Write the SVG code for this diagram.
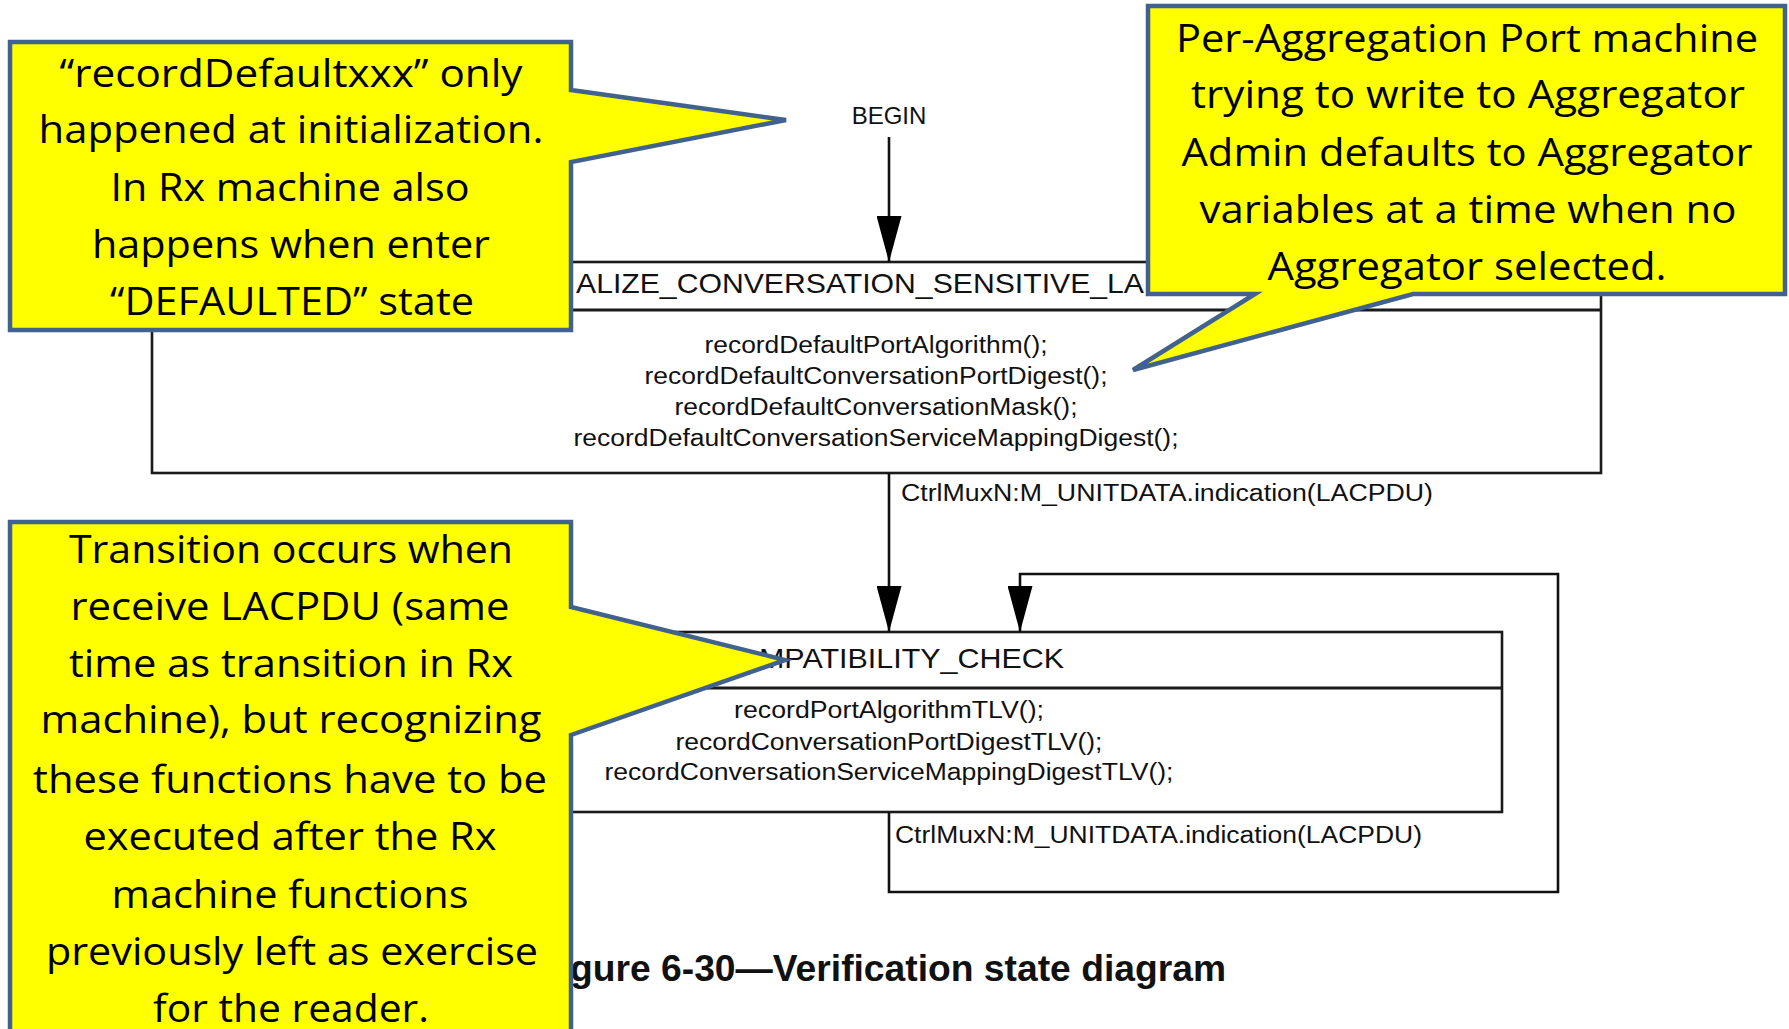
<svg xmlns="http://www.w3.org/2000/svg" width="1789" height="1029" viewBox="0 0 1789 1029">
<style>
.box{fill:#fff;stroke:#1a1a1a;stroke-width:2.6}
.div{stroke:#1a1a1a;stroke-width:3}
.conn{fill:none;stroke:#111;stroke-width:2.6}
.st{font-family:"Liberation Sans",Arial,sans-serif;fill:#111}
.hdr{font-size:28px}
.body{font-size:23px;text-anchor:middle}
.lbl{font-size:23px}
.cap{font-family:"Liberation Sans",Arial,sans-serif;font-size:36px;font-weight:bold;fill:#111}
.call{fill:#ffff00;stroke:#41628f;stroke-width:4.5;stroke-linejoin:miter}
.ct{font-family:"Open Sans","Noto Sans",sans-serif;font-size:38px;fill:#000;text-anchor:middle}
</style>
<defs>
<marker id="ah" markerUnits="userSpaceOnUse" viewBox="0 0 46 25" refX="46" refY="12.5" markerWidth="46" markerHeight="25" orient="auto">
<path d="M0,0 L46,12.5 L0,25 Z" fill="#000"/>
</marker>
</defs>

<g id="begin">
<text class="st" x="889" y="124" font-size="24" text-anchor="middle">BEGIN</text>
</g>

<g id="state-initialize">
<rect class="box" x="152" y="262" width="1449" height="211"/>
<line class="div" x1="152" y1="310" x2="1601" y2="310"/>
<text class="st hdr" x="576" y="293" textLength="568" lengthAdjust="spacingAndGlyphs">ALIZE_CONVERSATION_SENSITIVE_LA</text>
<text class="st body" x="876" y="353" textLength="343" lengthAdjust="spacingAndGlyphs">recordDefaultPortAlgorithm();</text>
<text class="st body" x="876" y="384" textLength="463" lengthAdjust="spacingAndGlyphs">recordDefaultConversationPortDigest();</text>
<text class="st body" x="876" y="415" textLength="403" lengthAdjust="spacingAndGlyphs">recordDefaultConversationMask();</text>
<text class="st body" x="876" y="446" textLength="605" lengthAdjust="spacingAndGlyphs">recordDefaultConversationServiceMappingDigest();</text>
</g>

<g id="state-compatibility">
<rect class="box" x="276" y="632" width="1226" height="180"/>
<line class="div" x1="276" y1="688" x2="1502" y2="688"/>
<text class="st hdr" x="759" y="668" textLength="305" lengthAdjust="spacingAndGlyphs">MPATIBILITY_CHECK</text>
<text class="st body" x="889" y="718" textLength="310" lengthAdjust="spacingAndGlyphs">recordPortAlgorithmTLV();</text>
<text class="st body" x="889" y="750" textLength="427" lengthAdjust="spacingAndGlyphs">recordConversationPortDigestTLV();</text>
<text class="st body" x="889" y="780" textLength="569" lengthAdjust="spacingAndGlyphs">recordConversationServiceMappingDigestTLV();</text>
</g>

<g id="connectors">
<line class="conn" x1="889" y1="137" x2="889" y2="262" marker-end="url(#ah)"/>
<line class="conn" x1="889" y1="473" x2="889" y2="632" marker-end="url(#ah)"/>
<path class="conn" d="M889,812 V892 H1558 V574 H1020 V632" marker-end="url(#ah)"/>
<text class="st lbl" x="901" y="501" textLength="532" lengthAdjust="spacingAndGlyphs">CtrlMuxN:M_UNITDATA.indication(LACPDU)</text>
<text class="st lbl" x="895" y="843" textLength="527" lengthAdjust="spacingAndGlyphs">CtrlMuxN:M_UNITDATA.indication(LACPDU)</text>
</g>

<g id="caption">
<text class="cap" x="570" y="981" textLength="656" lengthAdjust="spacingAndGlyphs">gure 6-30—Verification state diagram</text>
</g>

<g id="callout-1">
<path class="call" d="M10,42 H571 V90 L786,120 L571,162 V330 H10 Z"/>
<text class="ct" x="291" y="87" textLength="463" lengthAdjust="spacingAndGlyphs">“recordDefaultxxx” only</text>
<text class="ct" x="291" y="143" textLength="505" lengthAdjust="spacingAndGlyphs">happened at initialization.</text>
<text class="ct" x="290" y="201" textLength="359" lengthAdjust="spacingAndGlyphs">In Rx machine also</text>
<text class="ct" x="291" y="258" textLength="398" lengthAdjust="spacingAndGlyphs">happens when enter</text>
<text class="ct" x="292" y="315" textLength="364" lengthAdjust="spacingAndGlyphs">“DEFAULTED” state</text>
</g>

<g id="callout-2">
<path class="call" d="M1148,6 H1785 V294 H1413 L1133,370 L1255,294 H1148 Z"/>
<text class="ct" x="1467" y="52" textLength="582" lengthAdjust="spacingAndGlyphs">Per-Aggregation Port machine</text>
<text class="ct" x="1468" y="108" textLength="554" lengthAdjust="spacingAndGlyphs">trying to write to Aggregator</text>
<text class="ct" x="1467" y="166" textLength="571" lengthAdjust="spacingAndGlyphs">Admin defaults to Aggregator</text>
<text class="ct" x="1468" y="223" textLength="537" lengthAdjust="spacingAndGlyphs">variables at a time when no</text>
<text class="ct" x="1467" y="280" textLength="399" lengthAdjust="spacingAndGlyphs">Aggregator selected.</text>
</g>

<g id="callout-3">
<path class="call" d="M10,522 H571 V607 L785,660 L571,735 V1040 H10 Z"/>
<text class="ct" x="291" y="563" textLength="444" lengthAdjust="spacingAndGlyphs">Transition occurs when</text>
<text class="ct" x="290" y="620" textLength="439" lengthAdjust="spacingAndGlyphs">receive LACPDU (same</text>
<text class="ct" x="291" y="677" textLength="444" lengthAdjust="spacingAndGlyphs">time as transition in Rx</text>
<text class="ct" x="291" y="733" textLength="501" lengthAdjust="spacingAndGlyphs">machine), but recognizing</text>
<text class="ct" x="290" y="793" textLength="514" lengthAdjust="spacingAndGlyphs">these functions have to be</text>
<text class="ct" x="290" y="850" textLength="413" lengthAdjust="spacingAndGlyphs">executed after the Rx</text>
<text class="ct" x="290" y="908" textLength="357" lengthAdjust="spacingAndGlyphs">machine functions</text>
<text class="ct" x="292" y="965" textLength="492" lengthAdjust="spacingAndGlyphs">previously left as exercise</text>
<text class="ct" x="291" y="1022" textLength="276" lengthAdjust="spacingAndGlyphs">for the reader.</text>
</g>
</svg>
